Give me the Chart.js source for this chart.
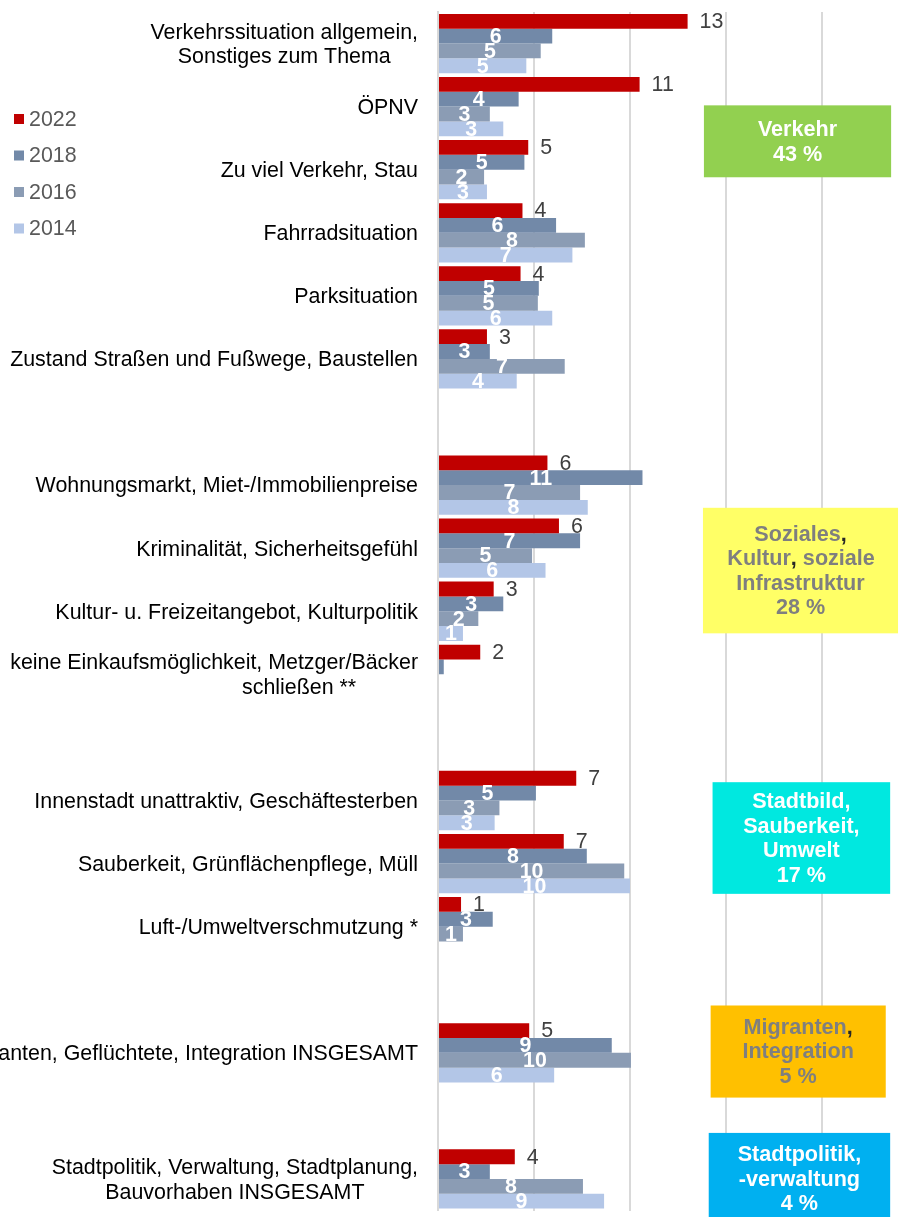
<!DOCTYPE html>
<html lang="de">
<head>
<meta charset="utf-8">
<title>Probleme in der Stadt</title>
<script src="https://cdn.jsdelivr.net/npm/chart.js@4.4.1/dist/chart.umd.min.js"></script>
<style>
  html,body{margin:0;padding:0;background:#fff;overflow:hidden;}
  #wrap{width:904px;height:1217px;overflow:hidden;}
</style>
</head>
<body>
<div id="wrap"><canvas id="chart" width="918" height="1217"></canvas></div>
<script>
// Kategorien ('' = Abstand zwischen den Themenblöcken)
const categories = [
  ['Verkehrssituation allgemein,', 'Sonstiges zum Thema'],
  ['ÖPNV'],
  ['Zu viel Verkehr, Stau'],
  ['Fahrradsituation'],
  ['Parksituation'],
  ['Zustand Straßen und Fußwege, Baustellen'],
  [''],
  ['Wohnungsmarkt, Miet-/Immobilienpreise'],
  ['Kriminalität, Sicherheitsgefühl'],
  ['Kultur- u. Freizeitangebot, Kulturpolitik'],
  ['keine Einkaufsmöglichkeit, Metzger/Bäcker', 'schließen **'],
  [''],
  ['Innenstadt unattraktiv, Geschäftesterben'],
  ['Sauberkeit, Grünflächenpflege, Müll'],
  ['Luft-/Umweltverschmutzung *'],
  [''],
  ['Migranten, Geflüchtete, Integration INSGESAMT'],
  [''],
  ['Stadtpolitik, Verwaltung, Stadtplanung,', 'Bauvorhaben INSGESAMT']
];

const years = ['2022', '2018', '2016', '2014'];

// Anteile in %
const values2022 = [13.0, 10.5, 4.7, 4.4, 4.3, 2.55, null, 5.7, 6.3, 2.9, 2.2, null, 7.2, 6.55, 1.2, null, 4.75, null, 4.0];
const values2018 = [5.95, 4.2, 4.5, 6.15, 5.25, 2.7, null, 10.65, 7.4, 3.4, 0.3, null, 5.1, 7.75, 2.85, null, 9.05, null, 2.7];
const values2016 = [5.35, 2.7, 2.4, 7.65, 5.2, 6.6, null, 7.4, 4.9, 2.1, null, null, 3.2, 9.7, 1.3, null, 10.05, null, 7.55];
const values2014 = [4.6, 3.4, 2.55, 7.0, 5.95, 4.1, null, 7.8, 5.6, 1.3, null, null, 2.95, 10.0, null, null, 6.05, null, 8.65];

const xTicks = [0, 5, 10, 15, 20, 25];

// Themenblöcke rechts
const themeBoxes = [
  { lines:['Verkehr', '43 %'], bg:'#92D050', color:'#FFFFFF', comma:'#FFFFFF', x0:13.85, x1:23.6, y0:0.98, y1:2.12 },
  { lines:['Soziales,', 'Kultur, soziale', 'Infrastruktur', '28 %'], bg:'#FFFF66', color:'#7F7F7F', comma:'#262626', x0:13.8, x1:23.96, y0:7.36, y1:9.35 },
  { lines:['Stadtbild,', 'Sauberkeit,', 'Umwelt', '17 %'], bg:'#00E8E0', color:'#FFFFFF', comma:'#FFFFFF', x0:14.3, x1:23.55, y0:11.71, y1:13.48 },
  { lines:['Migranten,', 'Integration', '5 %'], bg:'#FFC000', color:'#7F7F7F', comma:'#262626', x0:14.2, x1:23.32, y0:15.25, y1:16.71 },
  { lines:['Stadtpolitik,', '-verwaltung', '4 %'], bg:'#00B0F0', color:'#FFFFFF', comma:'#FFFFFF', x0:14.1, x1:23.55, y0:17.27, y1:18.72 }
];

const colors = ['#C00000', '#7289A8', '#8B9CB4', '#B3C6E7'];
const FONT = '"Liberation Sans", Arial, sans-serif';

// zweite Zeile beim Einkaufs-Label steht weiter rechts
const labelShift = { 10: [0, 85] };

// Kategorienbeschriftung (mehrzeilig, zentriert, rechtsbündig am Achsenrand)
const catLabels = {
  id:'catLabels',
  afterDraw(chart){
    const { ctx, scales:{ y } } = chart;
    const right = chart.chartArea.left - 20;
    const lineH = 24.5;
    ctx.save();
    ctx.font = '21.4px ' + FONT;
    ctx.fillStyle = '#000';
    ctx.textAlign = 'center';
    ctx.textBaseline = 'middle';
    categories.forEach((lines, i)=>{
      if(!lines[0]) return;
      const yc = y.getPixelForValue(i);
      const w = Math.max(...lines.map(l=> ctx.measureText(l).width));
      lines.forEach((l, k)=>{
        const dx = labelShift[i] ? labelShift[i][k] : 0;
        ctx.fillText(l, right - w/2 + dx, yc + 1.5 + (k - (lines.length-1)/2) * lineH);
      });
    });
    ctx.restore();
  }
};

// Werte an den Balken
const valueLabels = {
  id:'valueLabels',
  afterDatasetsDraw(chart){
    const ctx = chart.ctx;
    ctx.save();
    ctx.textBaseline = 'middle';
    chart.data.datasets.forEach((ds, di)=>{
      const meta = chart.getDatasetMeta(di);
      meta.data.forEach((bar, i)=>{
        const v = ds.data[i];
        if(v == null || Math.round(v) === 0) return;
        const txt = String(Math.round(v));
        if(di === 0){
          ctx.font = '21.4px ' + FONT;
          ctx.fillStyle = '#404040';
          ctx.textAlign = 'left';
          ctx.fillText(txt, bar.x + 12, bar.y + 1);
        } else {
          ctx.font = 'bold 21.4px ' + FONT;
          ctx.fillStyle = '#FFFFFF';
          ctx.textAlign = 'center';
          ctx.fillText(txt, (bar.x + bar.base)/2, bar.y + 1);
        }
      });
    });
    ctx.restore();
  }
};

// Legende links oben
const sideLegend = {
  id:'sideLegend',
  afterDraw(chart){
    const ctx = chart.ctx;
    ctx.save();
    ctx.font = '21.4px ' + FONT;
    ctx.textBaseline = 'middle';
    ctx.textAlign = 'left';
    chart.data.datasets.forEach((ds, i)=>{
      const yc = 119 + i * 36.5;
      ctx.fillStyle = ds.backgroundColor;
      ctx.fillRect(14, yc - 5, 10, 10);
      ctx.fillStyle = '#595959';
      ctx.fillText(ds.label, 29, yc + 1);
    });
    ctx.restore();
  }
};

// farbige Kästen mit Themenanteilen
const boxPlugin = {
  id:'themeBoxes',
  afterDraw(chart){
    const { ctx, scales:{ x, y } } = chart;
    const lineH = 24.5;
    ctx.save();
    ctx.font = 'bold 21.6px ' + FONT;
    ctx.textBaseline = 'middle';
    ctx.textAlign = 'left';
    themeBoxes.forEach(b=>{
      const left = x.getPixelForValue(b.x0), right = x.getPixelForValue(b.x1);
      const top = y.getPixelForValue(b.y0), bottom = y.getPixelForValue(b.y1);
      ctx.fillStyle = b.bg;
      ctx.fillRect(left, top, right - left, bottom - top);
      const cx = (left + right)/2, cy = (top + bottom)/2;
      b.lines.forEach((l, k)=>{
        const ly = cy + 1 + (k - (b.lines.length-1)/2) * lineH;
        let px = cx - ctx.measureText(l).width/2;
        l.split(/(,)/).forEach(part=>{
          if(!part) return;
          ctx.fillStyle = part === ',' ? b.comma : b.color;
          ctx.fillText(part, px, ly);
          px += ctx.measureText(part).width;
        });
      });
    });
    ctx.restore();
  }
};

const series = [values2022, values2018, values2016, values2014];

new Chart(document.getElementById('chart'), {
  type:'bar',
  data:{
    labels: categories,
    datasets: series.map((d, i)=>({
      label: years[i],
      data: d,
      backgroundColor: colors[i],
      borderWidth: 0,
      categoryPercentage: 0.94,
      barPercentage: 1
    }))
  },
  options:{
    indexAxis:'y',
    responsive:false,
    animation:false,
    layout:{ padding:{ top:12, bottom:6.5, left:0, right:0 } },
    plugins:{ legend:{ display:false }, tooltip:{ enabled:false } },
    scales:{
      x:{
        min: xTicks[0],
        max: xTicks[xTicks.length-1],
        afterBuildTicks: s=>{ s.ticks = xTicks.map(v=>({ value:v })); },
        ticks:{ display:false },
        grid:{ color:'#D9D9D9', lineWidth:2, drawTicks:false },
        border:{ display:false },
        afterFit: s=>{ s.height = 0; }
      },
      y:{
        ticks:{ display:false },
        grid:{ display:false, drawTicks:false },
        border:{ display:true, color:'#D9D9D9', width:2 },
        afterFit: s=>{ s.width = 438; }
      }
    }
  },
  plugins:[catLabels, valueLabels, sideLegend, boxPlugin]
});
</script>
</body>
</html>
